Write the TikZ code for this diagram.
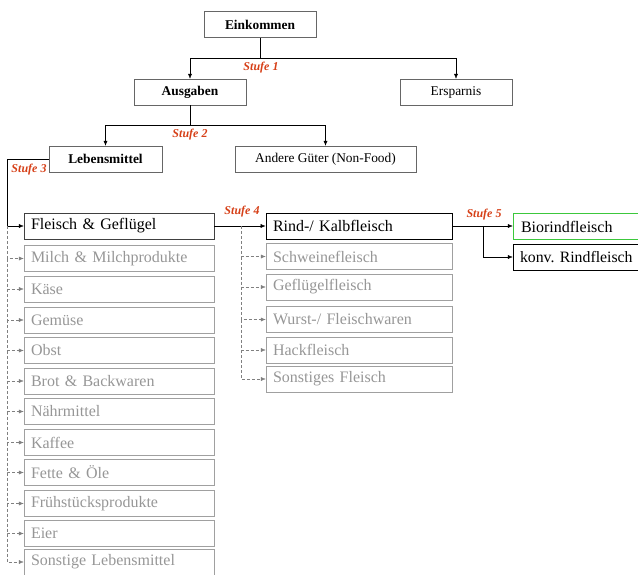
\documentclass[tikz,border=0pt]{standalone}
\usepackage{fontspec}
\setmainfont{Liberation Serif}
\usetikzlibrary{arrows.meta}
\definecolor{stufered}{RGB}{214,64,24}
\definecolor{boxgray}{RGB}{160,160,160}
\definecolor{txtgray}{RGB}{150,150,150}
\definecolor{biogreen}{RGB}{60,200,60}
\tikzset{
  topbox/.style={draw=black!60,minimum height=26pt,inner sep=2pt,
    font=\fontsize{13.4}{15}\selectfont},
  listbox/.style={draw=black!75,minimum height=26pt,inner xsep=7pt,inner ysep=2pt,
    align=left,font=\fontsize{16}{18}\selectfont},
  offbox/.style={listbox,draw=boxgray,text=txtgray},
  stufe/.style={text=stufered,font=\fontsize{12}{14}\selectfont\bfseries\itshape},
  offline/.style={draw=black!50,dash pattern=on 3pt off 2pt,->},
}
\begin{document}
\begin{tikzpicture}[x=1pt,y=-1pt,>={Latex[length=5pt,width=4pt]}]
  \useasboundingbox (0,0) rectangle (638,574);
  % stufe 1 and 2
  \node[topbox,minimum width=112pt,font=\fontsize{13.4}{15}\selectfont\bfseries] (ein) at (260,24.5){Einkommen};
  \node[topbox,minimum width=112pt,font=\fontsize{13.4}{15}\selectfont\bfseries] (aus) at (190,92){Ausgaben};
  \node[topbox,minimum width=112pt] (ers) at (456,92){Ersparnis};
  \node[topbox,minimum width=113pt,font=\fontsize{13.4}{15}\selectfont\bfseries] (leb) at (105.5,159){Lebensmittel};
  \node[topbox,minimum width=181pt] (and) at (325.5,159){Andere Güter (Non-Food)};
  \coordinate (s1) at (260,58);
  \coordinate (s2) at (190,125);
  \draw (ein.south) -- (s1);
  \draw[->] (s1) -| (aus.north);
  \draw[->] (s1) -| (ers.north);
  \draw (aus.south) -- (s2);
  \draw[->] (s2) -| (leb.north);
  \draw[->] (s2) -| (and.north);
  \node[stufe] (st1) at (261,68){Stufe 1};
  \node[stufe] (st2) at (190,135){Stufe 2};
  % stufe 3
  \node[listbox,text width=176pt] (fle) at (119,226){Fleisch \& Geflügel};
  \node[offbox,text width=176pt] (mil) at (119,258.5){Milch \& Milchprodukte};
  \node[offbox,text width=176pt] (kae) at (119,289){Käse};
  \node[offbox,text width=176pt] (gem) at (119,320){Gemüse};
  \node[offbox,text width=176pt] (obs) at (119,350.5){Obst};
  \node[offbox,text width=176pt] (bro) at (119,381){Brot \& Backwaren};
  \node[offbox,text width=176pt] (nae) at (119,411.5){Nährmittel};
  \node[offbox,text width=176pt] (kaf) at (119,442.5){Kaffee};
  \node[offbox,text width=176pt] (fet) at (119,472.5){Fette \& Öle};
  \node[offbox,text width=176pt] (fru) at (119,503.5){Frühstücksprodukte};
  \node[offbox,text width=176pt] (eie) at (119,533.5){Eier};
  \node[offbox,text width=176pt] (son) at (119,562){Sonstige Lebensmittel};
  \coordinate (lx) at (7,159);
  \draw[->] (leb.west) -- (lx) |- (fle.west);
  \draw[offline] (lx |- fle.west) |- (mil.west);
  \draw[offline] (lx |- mil.west) |- (kae.west);
  \draw[offline] (lx |- kae.west) |- (gem.west);
  \draw[offline] (lx |- gem.west) |- (obs.west);
  \draw[offline] (lx |- obs.west) |- (bro.west);
  \draw[offline] (lx |- bro.west) |- (nae.west);
  \draw[offline] (lx |- nae.west) |- (kaf.west);
  \draw[offline] (lx |- kaf.west) |- (fet.west);
  \draw[offline] (lx |- fet.west) |- (fru.west);
  \draw[offline] (lx |- fru.west) |- (eie.west);
  \draw[offline] (lx |- eie.west) |- (son.west);
  \node[stufe] (st3) at (29,170){Stufe 3};
  % stufe 4
  \node[listbox,draw=black,thick,text width=172pt] (rin) at (359,226){Rind-/ Kalbfleisch};
  \node[offbox,text width=172pt] (sch) at (359,256.5){Schweinefleisch};
  \node[offbox,text width=172pt] (gef) at (359,287){Geflügelfleisch};
  \node[offbox,text width=172pt] (wur) at (359,319.5){Wurst-/ Fleischwaren};
  \node[offbox,text width=172pt] (hac) at (359,350){Hackfleisch};
  \node[offbox,text width=172pt] (sfl) at (359,379){Sonstiges Fleisch};
  \coordinate (mx) at (241,226);
  \draw[->] (fle.east) -- (rin.west);
  \draw[offline] (mx) |- (sch.west);
  \draw[offline] (mx |- sch.west) |- (gef.west);
  \draw[offline] (mx |- gef.west) |- (wur.west);
  \draw[offline] (mx |- wur.west) |- (hac.west);
  \draw[offline] (mx |- hac.west) |- (sfl.west);
  \node[stufe] (st4) at (242,212){Stufe 4};
  % stufe 5
  \node[listbox,draw=biogreen,text width=109pt,inner xsep=8pt] (bio) at (575.5,226.5){Biorindfleisch};
  \node[listbox,draw=black,text width=120pt,inner xsep=7pt,font=\fontsize{15.8}{18}\selectfont] (kon) at (580,257){konv.\ Rindfleisch};
  \coordinate (kx) at (483,226);
  \draw[->] (rin.east) -- (bio.west |- rin.east);
  \draw[->] (kx) |- (kon.west);
  \node[stufe] (st5) at (484,215){Stufe 5};
\end{tikzpicture}
\end{document}
